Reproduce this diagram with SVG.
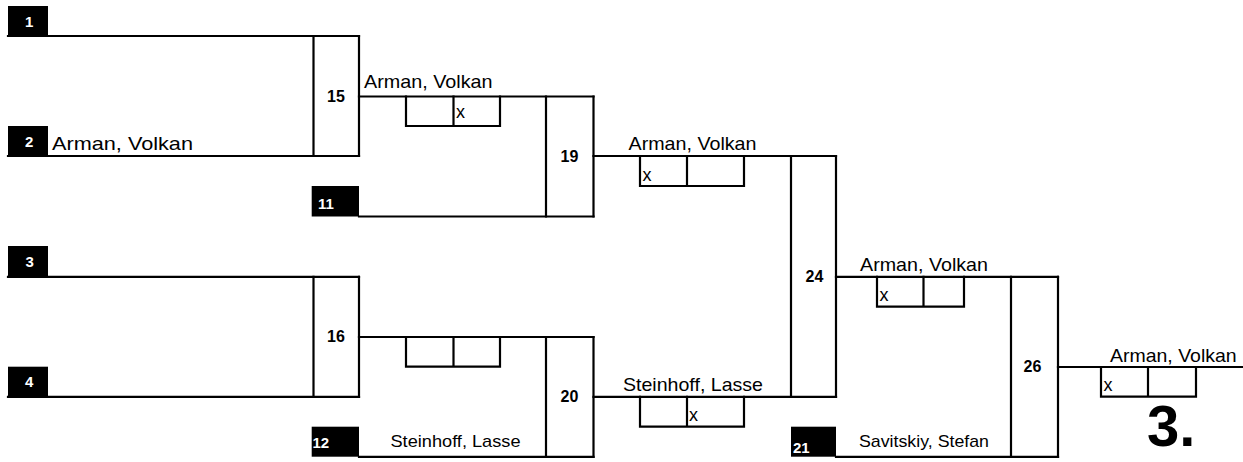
<svg xmlns="http://www.w3.org/2000/svg" width="1243" height="462" viewBox="0 0 1243 462">
<style>
.ln{stroke:#000;stroke-width:2.2;fill:none;stroke-linecap:square}
.seed{fill:#000}
.sn{font-family:"Liberation Sans",Arial,sans-serif;font-weight:bold;font-size:15px;fill:#fff}
.mn{font-family:"Liberation Sans",Arial,sans-serif;font-weight:bold;font-size:16px;fill:#000}
.nm{font-family:"Liberation Sans",Arial,sans-serif;font-size:18.5px;fill:#000}
.nms{font-family:"Liberation Sans",Arial,sans-serif;font-size:17px;fill:#000}
.x{font-family:"Liberation Sans",Arial,sans-serif;font-size:18px;fill:#000}
.big{font-family:"Liberation Sans",Arial,sans-serif;font-weight:bold;font-size:58px;fill:#000}
</style>
<rect width="1243" height="462" fill="#fff"/>
<g id="connectors" class="ln">
<path d="M8 36H359M8 156H359M8 276.8H359M8 396.8H359"/>
<path d="M359 96.5H593.5M359 216.5H593.5M359 337H593.5M359 456.8H593.5"/>
<path d="M593.5 156H836M593.5 396.8H836"/>
<path d="M836 276.8H1058M836 456.8H1058"/>
<path d="M1058 367H1243"/>
</g>
<g id="seed1"><rect class="seed" x="8" y="6" width="40" height="30"/><text class="sn" x="25" y="26.5">1</text></g>
<g id="seed2"><rect class="seed" x="8" y="126" width="40" height="30"/><text class="sn" x="25" y="146.7">2</text><text class="nm" x="52" y="150" font-size="21" textLength="141" lengthAdjust="spacingAndGlyphs">Arman, Volkan</text></g>
<g id="seed3"><rect class="seed" x="8" y="246" width="40" height="31"/><text class="sn" x="25.5" y="266.7">3</text></g>
<g id="seed4"><rect class="seed" x="8" y="366.7" width="40" height="30"/><text class="sn" x="25" y="386.7">4</text></g>
<g id="seed11"><rect class="seed" x="311.7" y="186" width="47.3" height="30.5"/><text class="sn" x="318" y="208.5">11</text></g>
<g id="seed12"><rect class="seed" x="311.7" y="426.7" width="47.3" height="30"/><text class="sn" x="312.5" y="447.5" font-size="16">12</text><text class="nms" x="390.5" y="446.7" textLength="130" lengthAdjust="spacingAndGlyphs">Steinhoff, Lasse</text></g>
<g id="seed21"><rect class="seed" x="791" y="426.7" width="45" height="30"/><text class="sn" x="793" y="452.5" font-size="16">21</text><text class="nms" x="859" y="446.7" textLength="130" lengthAdjust="spacingAndGlyphs">Savitskiy, Stefan</text></g>
<g id="match15"><path class="ln" d="M313.5 36V156M359 36V156"/><text class="mn" x="327" y="101.5">15</text></g>
<g id="match16"><path class="ln" d="M313.5 276.8V396.8M359 276.8V396.8"/><text class="mn" x="327" y="342">16</text></g>
<g id="match19"><path class="ln" d="M546 96.5V216.5M593.5 96.5V216.5"/><text class="mn" x="560.5" y="161.5">19</text></g>
<g id="match20"><path class="ln" d="M546 337V456.8M593.5 337V456.8"/><text class="mn" x="560.5" y="402">20</text></g>
<g id="match24"><path class="ln" d="M791 156V396.8M836 156V396.8"/><text class="mn" x="805.5" y="281.5">24</text></g>
<g id="match26"><path class="ln" d="M1011 276.8V456.8M1058 276.8V456.8"/><text class="mn" x="1023.5" y="372">26</text></g>
<g id="result15"><text class="nm" x="364" y="88" textLength="128.5" lengthAdjust="spacingAndGlyphs">Arman, Volkan</text><path class="ln" d="M406 96.5V126H500V96.5M453.5 96.5V126"/><text class="x" x="456" y="118">x</text></g>
<g id="result16"><path class="ln" d="M406 337V366.7H500V337M453.5 337V366.7"/></g>
<g id="result19"><text class="nm" x="628.5" y="150" textLength="128" lengthAdjust="spacingAndGlyphs">Arman, Volkan</text><path class="ln" d="M640 156V186H744V156M687 156V186"/><text class="x" x="642.5" y="181">x</text></g>
<g id="result20"><text class="nm" x="623" y="391" textLength="140" lengthAdjust="spacingAndGlyphs">Steinhoff, Lasse</text><path class="ln" d="M640 396.8V426.7H744V396.8M687 396.8V426.7"/><text class="x" x="689" y="421">x</text></g>
<g id="result24"><text class="nm" x="860" y="270.5" textLength="128" lengthAdjust="spacingAndGlyphs">Arman, Volkan</text><path class="ln" d="M877 276.8V306.7H964V276.8M923.5 276.8V306.7"/><text class="x" x="879.5" y="300.5">x</text></g>
<g id="result26"><text class="nm" x="1110" y="361.7" textLength="126.7" lengthAdjust="spacingAndGlyphs">Arman, Volkan</text><path class="ln" d="M1101 367V396.7H1196V367M1148 367V396.7"/><text class="x" x="1103.5" y="390.5">x</text><text class="big" x="1147" y="446">3.</text></g>
</svg>
